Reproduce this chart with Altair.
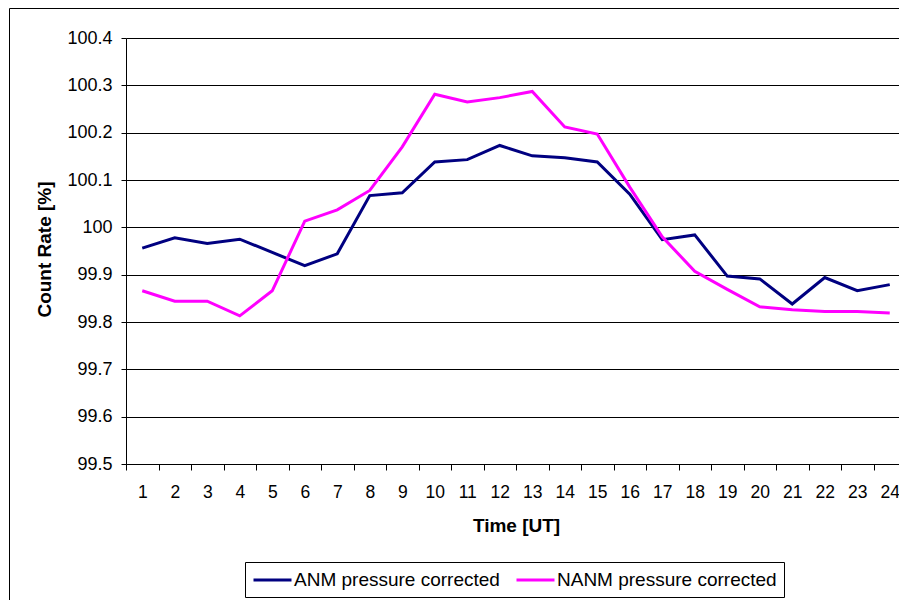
import altair as alt
import pandas as pd

# ---- data ----
hours = ["1", "2", "3", "4", "5", "6", "7", "8", "9", "10", "11", "12",
         "13", "14", "15", "16", "17", "18", "19", "20", "21", "22", "23", "24"]
anm = [99.956, 99.978, 99.966, 99.975, 99.947, 99.919, 99.944, 100.067,
       100.073, 100.138, 100.143, 100.173, 100.151, 100.147, 100.138, 100.070,
       99.974, 99.984, 99.897, 99.891, 99.838, 99.894, 99.866, 99.879]
nanm = [99.866, 99.844, 99.844, 99.813, 99.866, 100.013, 100.037, 100.078,
        100.170, 100.281, 100.265, 100.274, 100.287, 100.212, 100.197, 100.085,
        99.980, 99.907, 99.869, 99.832, 99.826, 99.822, 99.822, 99.819]
series_names = ["ANM pressure corrected", "NANM pressure corrected"]
series_colors = ["#000080", "#FF00FF"]
y_ticks = [99.5, 99.6, 99.7, 99.8, 99.9, 100.0, 100.1, 100.2, 100.3, 100.4]

df = pd.DataFrame({
    "hour": hours + hours,
    "value": anm + nanm,
    "series": [series_names[0]] * len(hours) + [series_names[1]] * len(hours),
})

FONT = "Liberation Sans"

frame = alt.Chart(pd.DataFrame({"f": [0]})).mark_rect(
    filled=False, stroke="black", strokeWidth=1
).encode(
    x=alt.value(-116.5), x2=alt.value(1200),
    y=alt.value(-29.5), y2=alt.value(1200),
)

lines = alt.Chart(df).mark_line(strokeWidth=3).encode(
    x=alt.X(
        "hour:O", sort=hours, bandPosition=0.5,
        scale=alt.Scale(type="band", paddingInner=0, paddingOuter=0),
        axis=alt.Axis(
            title="Time [UT]", tickBand="extent", labelAngle=0,
            labelFontSize=17.5, labelBaseline="alphabetic", labelPadding=27,
            tickSize=6, grid=False,
            titleFontSize=19, titleY=67.5, titleBaseline="alphabetic",
        ),
    ),
    y=alt.Y(
        "value:Q",
        scale=alt.Scale(domain=[99.5, 100.4], nice=False, zero=False),
        axis=alt.Axis(
            title="Count Rate [%]", values=y_ticks, format=".4~g",
            labelFontSize=18, labelPadding=9, tickSize=5, grid=True,
            titleFontSize=19, titleX=-76, titleY=211, titleAngle=-90,
            titleAlign="center", titleBaseline="alphabetic",
        ),
    ),
    color=alt.Color(
        "series:N", sort=series_names, title=None,
        scale=alt.Scale(domain=series_names, range=series_colors),
        legend=alt.Legend(
            orient="none", legendX=119, legendY=524, direction="horizontal",
            symbolType="M-1,0L3,0", symbolSize=361, symbolStrokeWidth=3,
            labelFontSize=19, labelFont=FONT, labelColor="black",
            labelLimit=400, labelOffset=20, columnPadding=10, padding=7,
            strokeColor="black", fillColor="white",
        ),
    ),
)

chart = alt.layer(frame, lines).properties(
    width=780, height=426,
    padding={"left": 118, "top": 30, "right": -7, "bottom": 136},
    autosize=alt.AutoSizeParams(type="none"),
).configure_view(
    strokeWidth=0
).configure_axis(
    domainColor="black", tickColor="black", gridColor="black",
    gridWidth=1, domainWidth=1, tickWidth=1,
    labelColor="black", titleColor="black",
    labelFont=FONT, titleFont=FONT, titleFontWeight="bold",
)

chart.save("out.html", embed_options={"renderer": "svg", "actions": False})
